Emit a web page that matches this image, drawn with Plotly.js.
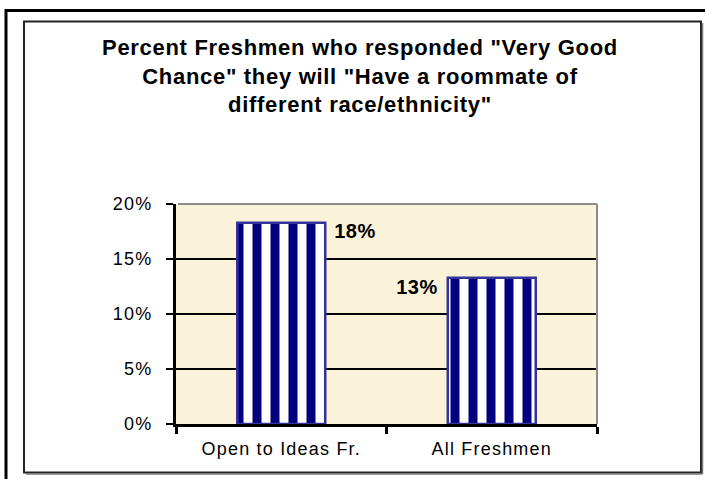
<!DOCTYPE html>
<html>
<head>
<meta charset="utf-8">
<script src="https://cdn.plot.ly/plotly-3.0.1.min.js"></script>
<style>
html, body { margin: 0; padding: 0; background: #fff; }
#chart { width: 705px; height: 479px; }
#chart .gtitle { letter-spacing: 0.7px; }
#chart .xtick text, #chart .ytick text { letter-spacing: 1.2px; }
#chart .annotation-text { letter-spacing: 0.5px; }
</style>
</head>
<body>
<div id="chart"></div>
<script>
// ---- data ----
const categories = ["Open to Ideas Fr.", "All Freshmen"];
const values = [0.183, 0.133];
const yTickValues = [0, 0.05, 0.10, 0.15, 0.20];
const yTickLabels = ["0%", "5%", "10%", "15%", "20%"];
const titleLines = [
  'Percent Freshmen who responded "Very Good',
  'Chance" they will "Have a roommate of',
  'different race/ethnicity"'
];

// ---- layout geometry ----
const W = 705, H = 479;
const L = 176, R = 108, T = 204, B = 55;
const PW = W - L - R, PH = H - T - B;
const px = x => (x - L) / PW;
const py = y => (H - B - y) / PH;

const FONT = '"Liberation Sans", Arial, sans-serif';

const trace = {
  type: 'bar',
  x: categories,
  y: values,
  marker: {
    color: '#ffffff',
    line: { color: '#333399', width: 2.5 },
    pattern: { shape: '|', fgcolor: '#000080', bgcolor: '#ffffff', size: 18, solidity: 0.5, fillmode: 'replace' }
  },
  hoverinfo: 'skip'
};

const annotations = categories.map((c, i) => ({
  x: c, y: values[i], xref: 'x', yref: 'y',
  text: Math.round(values[i] * 100) + '%',
  showarrow: false,
  xanchor: i === 0 ? 'left' : 'right',
  yanchor: 'top',
  xshift: i === 0 ? 52 : -53,
  yshift: i === 0 ? 5 : 4,
  font: { family: FONT, size: 20, color: '#000', weight: 'bold' }
}));

const shapes = [
  // outer frame (extends beyond the picture on the right/bottom)
  { type: 'rect', xref: 'paper', yref: 'paper', x0: px(6), x1: px(720), y0: py(495), y1: py(10.5),
    line: { color: '#000', width: 3 }, layer: 'above' },
  // inner frame
  { type: 'rect', xref: 'paper', yref: 'paper', x0: px(24), x1: px(701), y0: py(472.5), y1: py(21.5),
    line: { color: '#222', width: 2 }, layer: 'above' },
  { type: 'line', xref: 'paper', yref: 'paper', x0: px(702.5), x1: px(702.5), y0: py(474), y1: py(23),
    line: { color: '#777', width: 1.5 }, layer: 'above' },
  { type: 'line', xref: 'paper', yref: 'paper', x0: px(26), x1: px(702.5), y0: py(474), y1: py(474),
    line: { color: '#777', width: 1.5 }, layer: 'above' },
  // grey top and right borders of the plot area
  { type: 'line', xref: 'paper', yref: 'paper', x0: 0.005, x1: 1, y0: 1, y1: 1,
    line: { color: '#8c8c8c', width: 2 }, layer: 'above' },
  { type: 'line', xref: 'paper', yref: 'paper', x0: 1, x1: 1, y0: 0, y1: 1,
    line: { color: '#8c8c8c', width: 2 }, layer: 'above' }
];

const layout = {
  width: W, height: H,
  margin: { l: L, r: R, t: T, b: B },
  paper_bgcolor: '#ffffff',
  plot_bgcolor: '#fbf2da',
  font: { family: FONT, color: '#000' },
  showlegend: false,
  bargap: 0.582,
  title: {
    text: titleLines.join('<br>'),
    font: { family: FONT, size: 22, color: '#000', weight: 'bold' },
    x: 360 / W, xref: 'container', xanchor: 'center',
    y: 1 - 55 / H, yref: 'container', yanchor: 'top'
  },
  xaxis: {
    type: 'category',
    showline: true, linecolor: '#000', linewidth: 3,
    ticks: 'outside', tickson: 'boundaries', ticklen: 7, tickwidth: 3, tickcolor: '#000',
    showgrid: false, zeroline: false,
    tickfont: { family: FONT, size: 18, color: '#000' },
    ticklabelstandoff: 6
  },
  yaxis: {
    range: [0, 0.2],
    tickvals: yTickValues, ticktext: yTickLabels,
    showline: true, linecolor: '#000', linewidth: 3,
    ticks: 'outside', ticklen: 7, tickwidth: 2, tickcolor: '#000',
    showgrid: true, gridcolor: '#000', gridwidth: 2,
    zeroline: false,
    tickfont: { family: FONT, size: 18, color: '#000' },
    ticklabelstandoff: 10
  },
  annotations: annotations,
  shapes: shapes
};

Plotly.newPlot('chart', [trace], layout, { staticPlot: true, displayModeBar: false });
</script>
</body>
</html>
